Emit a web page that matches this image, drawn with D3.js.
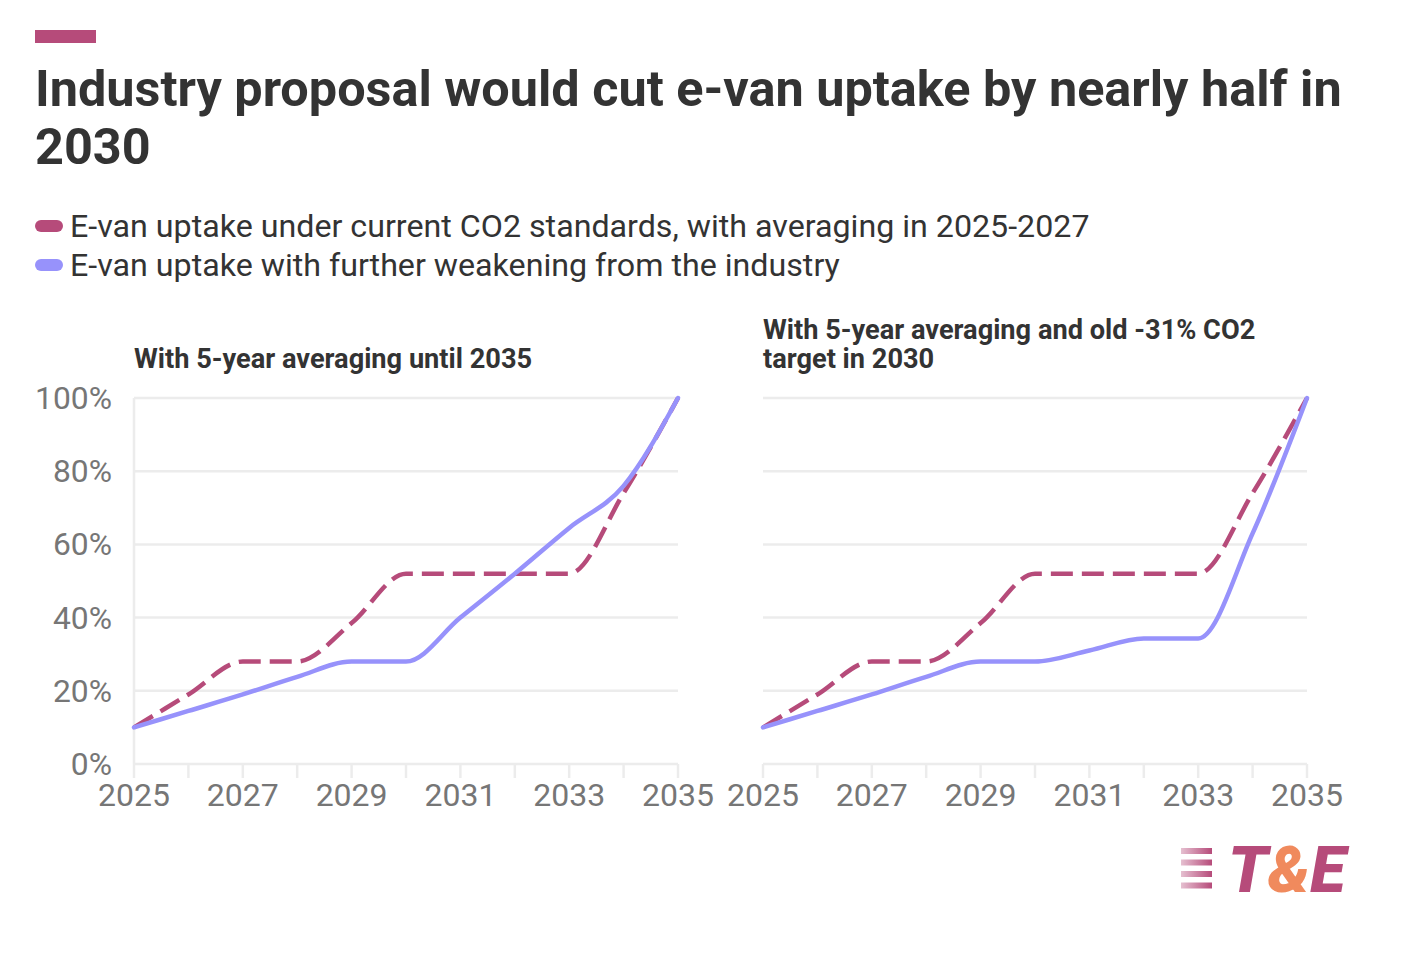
<!DOCTYPE html>
<html><head><meta charset="utf-8">
<script src="https://cdn.jsdelivr.net/npm/d3@7"></script>
<style>
html,body{margin:0;padding:0;background:#fff;}
text{font-family:Roboto, "Noto Sans", sans-serif;}
</style></head>
<body><svg id="chart" width="1414" height="954"></svg>
<script>
const years = [2025,2026,2027,2028,2029,2030,2031,2032,2033,2034,2035];
const xTickLabels = [2025,2027,2029,2031,2033,2035];
const yTicks = [0,20,40,60,80,100];
const seriesNames = ["E-van uptake under current CO2 standards, with averaging in 2025-2027","E-van uptake with further weakening from the industry"];
const leftCurrent  = [10,19,28,28,38.5,52,52,52,52,74,100];
const leftIndustry = [10,14.5,19,23.8,28,28,40,52,64.5,76,100];
const rightCurrent  = [10,19,28,28,38.5,52,52,52,52,74,100];
const rightIndustry = [10,14.5,19,23.8,28,28,31,34.3,34.3,63,100];
const panelTitles = [["With 5-year averaging until 2035"],["With 5-year averaging and old -31% CO2","target in 2030"]];
const title = ["Industry proposal would cut e-van uptake by nearly half in","2030"];

const RED = "#b64b7a", BLUE = "#9792fb", GRID = "#ececec", LABEL = "#767676";
const svg = d3.select("#chart");

svg.append("rect").attr("x",35).attr("y",30).attr("width",61).attr("height",13).attr("fill",RED);
svg.append("text").attr("x",35).attr("y",106).attr("font-size",50.4).attr("font-weight",700).attr("fill","#333").text(title[0]);
svg.append("text").attr("x",35).attr("y",164).attr("font-size",50.4).attr("font-weight",700).attr("fill","#333").text(title[1]);

const legColors = [RED, BLUE];
seriesNames.forEach((n,i)=>{
  const yb = 237 + i*39;
  svg.append("rect").attr("x",35).attr("y",yb-17).attr("width",28).attr("height",12).attr("rx",6).attr("fill",legColors[i]);
  svg.append("text").attr("x",70).attr("y",yb).attr("font-size",32.2).attr("fill","#333").text(n);
});

const y = d3.scaleLinear().domain([0,100]).range([764,398]);
const panels = [
  {x0:134, cur:leftCurrent, ind:leftIndustry, titles:panelTitles[0], yaxis:true},
  {x0:763, cur:rightCurrent, ind:rightIndustry, titles:panelTitles[1], yaxis:false}
];
panels.forEach(p=>{
  const x = d3.scaleLinear().domain([2025,2035]).range([p.x0,p.x0+544]);
  const g = svg.append("g");
  g.selectAll(".grid").data(yTicks).join("line")
    .attr("x1",p.x0).attr("x2",p.x0+544).attr("y1",d=>y(d)).attr("y2",d=>y(d))
    .attr("stroke",GRID).attr("stroke-width",2.5);
  if(p.yaxis){
    g.append("line").attr("x1",p.x0).attr("x2",p.x0).attr("y1",y(100)).attr("y2",y(0)).attr("stroke",GRID).attr("stroke-width",2.5);
    g.selectAll(".yl").data(yTicks).join("text")
      .attr("x",p.x0-22).attr("y",d=>y(d)+11).attr("text-anchor","end")
      .attr("font-size",31.8).attr("fill",LABEL).text(d=>d+"%");
  }
  g.selectAll(".xt").data(years).join("line")
    .attr("x1",d=>x(d)).attr("x2",d=>x(d)).attr("y1",y(0)).attr("y2",y(0)+14)
    .attr("stroke",GRID).attr("stroke-width",2.5);
  g.selectAll(".xl").data(xTickLabels).join("text")
    .attr("x",d=>x(d)).attr("y",806).attr("text-anchor","middle")
    .attr("font-size",32).attr("fill",LABEL).text(d=>d);
  const tb = p.titles.length===1 ? [368] : [339,368];
  p.titles.forEach((t,i)=>{
    g.append("text").attr("x",p.x0).attr("y",tb[i]).attr("font-size",27.2).attr("font-weight",700).attr("fill","#333").text(t);
  });
  const line = d3.line().x((d,i)=>x(years[i])).y(d=>y(d)).curve(d3.curveMonotoneX);
  g.append("path").attr("d",line(p.cur)).attr("fill","none").attr("stroke",RED)
    .attr("stroke-width",4.5).attr("stroke-dasharray","22,9");
  g.append("path").attr("d",line(p.ind)).attr("fill","none").attr("stroke",BLUE)
    .attr("stroke-width",4.5).attr("stroke-linecap","round");
});

// logo
const defs = svg.append("defs");
const grad = defs.append("linearGradient").attr("id","lg").attr("x1","0").attr("x2","1");
grad.append("stop").attr("offset","0").attr("stop-color",RED).attr("stop-opacity",0.35);
grad.append("stop").attr("offset","1").attr("stop-color",RED).attr("stop-opacity",1);
[0,1,2,3].forEach(i=>{
  const yy = 848 + i*11.5;
  svg.append("path")
    .attr("d",`M1181,${yy} L1212,${yy} L1212,${yy+6} L1181,${yy+6} Z`)
    .attr("fill","url(#lg)");
});
const logo = svg.append("text").attr("x",1228).attr("y",892).attr("font-size",65).attr("font-weight",900).attr("font-style","italic");
logo.append("tspan").attr("fill",RED).text("T");
logo.append("tspan").attr("fill","#f08a5d").text("&");
logo.append("tspan").attr("fill",RED).text("E");
</script></body></html>
